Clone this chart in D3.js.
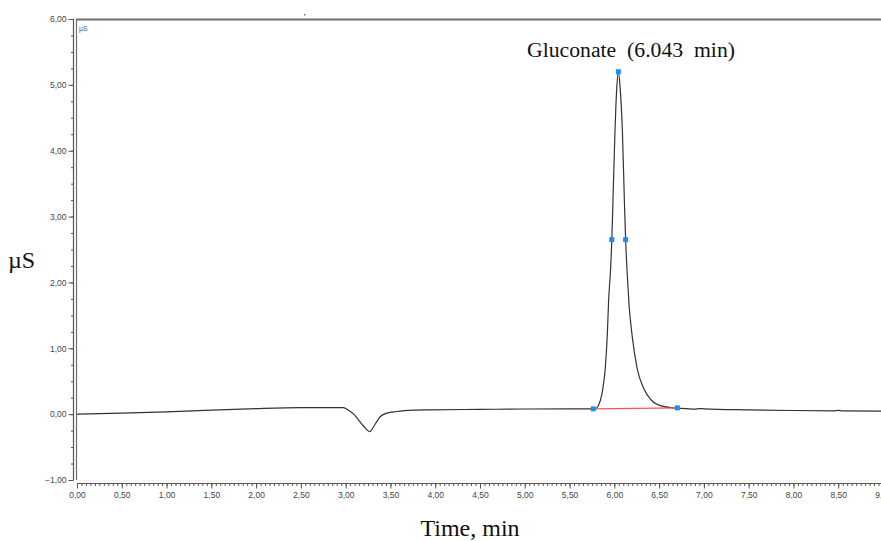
<!DOCTYPE html>
<html>
<head>
<meta charset="utf-8">
<script src="https://cdn.jsdelivr.net/npm/d3@7"></script>
<style>
  html, body { margin: 0; padding: 0; background: #fff; }
  svg { display: block; }
</style>
</head>
<body>
<svg id="chart" width="881" height="541"></svg>
<script>
// ---- Data ----
const times = [0, 0.5, 1.0, 1.5, 2.0, 2.5, 2.976, 3.03, 3.09, 3.15, 3.2, 3.266, 3.33, 3.385, 3.46, 3.57, 3.76, 3.94, 4.5, 5.0, 5.5, 5.765, 5.8, 5.821, 5.862, 5.899, 5.922, 5.936, 5.958, 5.972, 5.985, 6.005, 6.025, 6.045, 6.065, 6.09, 6.112, 6.126, 6.145, 6.165, 6.198, 6.254, 6.324, 6.421, 6.514, 6.659, 6.8, 6.9, 6.95, 7.0, 7.5, 8.0, 8.45, 8.5, 8.55, 9.0];
const signal = [0.0, 0.015, 0.035, 0.06, 0.085, 0.10, 0.10, 0.06, 0.0, -0.1, -0.18, -0.265, -0.15, -0.04, 0.015, 0.04, 0.06, 0.065, 0.072, 0.078, 0.08, 0.08, 0.09, 0.126, 0.31, 0.70, 1.22, 1.72, 2.2, 2.65, 3.25, 4.2, 4.9, 5.2, 4.95, 4.3, 3.25, 2.65, 2.1, 1.65, 1.2, 0.70, 0.40, 0.20, 0.13, 0.096, 0.085, 0.075, 0.085, 0.08, 0.065, 0.055, 0.05, 0.058, 0.05, 0.045];

const markerTimes = [5.765, 5.972, 6.045, 6.126, 6.704];
const markerValues = [0.08, 2.65, 5.2, 2.65, 0.095];
const baselineTimes = [5.765, 6.704];
const baselineValues = [0.08, 0.095];

const xMajorTicks = d3.range(0, 9.001, 0.5);
const xMinorTicks = d3.range(0, 9.001, 0.05);
const yMajorTicks = [-1, 0, 1, 2, 3, 4, 5, 6];
const yMinorTicks = d3.range(-1, 6.001, 0.25);

const peakLabel = "Gluconate  (6.043  min)";
const xTitle = "Time, min";
const yTitle = "\u00B5S";
const unitLabel = "\u00B5S";

// ---- Scales ----
const svg = d3.select("#chart");
const x = d3.scaleLinear().domain([0, 9]).range([77, 883]);
const y = d3.scaleLinear().domain([-1, 6]).range([480, 19]);
const fmt = v => d3.format(".2f")(v).replace(".", ",");

// ---- Frame ----
svg.append("line").attr("x1", 76).attr("x2", 881).attr("y1", 19.5).attr("y2", 19.5)
  .attr("stroke", "#6d6d6d").attr("stroke-width", 2);
svg.append("line").attr("x1", 76.5).attr("x2", 76.5).attr("y1", 19).attr("y2", 480)
  .attr("stroke", "#6d6d6d").attr("stroke-width", 1.2);
svg.append("line").attr("x1", 77).attr("x2", 881).attr("y1", 481).attr("y2", 481)
  .attr("stroke", "#efebdc").attr("stroke-width", 1);
svg.append("rect").attr("x", 304).attr("y", 14).attr("width", 1.5).attr("height", 1.5).attr("fill", "#777");

// ---- Y axis ----
const yAxisG = svg.append("g").attr("transform", "translate(73.5,0)");
yAxisG.call(d3.axisLeft(y).tickValues(yMinorTicks).tickSize(2.5).tickFormat(""));
yAxisG.call(g => g.select(".domain").remove());
const yMajor = svg.append("g").attr("transform", "translate(73.5,0)")
  .call(d3.axisLeft(y).tickValues(yMajorTicks).tickSize(5).tickPadding(2).tickFormat(fmt));
yMajor.select(".domain").attr("d", `M0,${y(6)}V${y(-1)}`).attr("stroke", "#555").attr("stroke-width", 1.2);
yMajor.selectAll("text").attr("font-family", "Arial, 'Liberation Sans', sans-serif")
  .attr("font-size", 8.5).attr("fill", "#444");

// ---- X axis ----
const xAxisG = svg.append("g").attr("transform", "translate(0,483.5)");
xAxisG.call(d3.axisBottom(x).tickValues(xMinorTicks).tickSize(2.5).tickFormat(""));
xAxisG.select(".domain").remove();
const xMajor = svg.append("g").attr("transform", "translate(0,483.5)")
  .call(d3.axisBottom(x).tickValues(xMajorTicks).tickSize(5).tickPadding(3).tickFormat(fmt));
xMajor.select(".domain").attr("d", `M${x(0)},0H881`).attr("stroke", "#555").attr("stroke-width", 1.2);
xMajor.selectAll("text").attr("font-family", "Arial, 'Liberation Sans', sans-serif")
  .attr("font-size", 8.5).attr("fill", "#444");
svg.selectAll(".tick line").attr("stroke", "#555");

// ---- Chromatogram trace ----
const pts = times.map((t, i) => [t, signal[i]]);
const line = d3.line().x(d => x(d[0])).y(d => y(d[1])).curve(d3.curveMonotoneX);
svg.append("path").datum(pts).attr("d", line)
  .attr("fill", "none").attr("stroke", "#333").attr("stroke-width", 1.2);

// ---- Integration baseline ----
const bl = baselineTimes.map((t, i) => [t, baselineValues[i]]);
svg.append("path").datum(bl).attr("d", d3.line().x(d => x(d[0])).y(d => y(d[1])))
  .attr("fill", "none").attr("stroke", "#f2555a").attr("stroke-width", 1.2);

// ---- Peak markers ----
svg.selectAll("rect.mk").data(markerTimes.map((t, i) => [t, markerValues[i]])).join("rect")
  .attr("class", "mk")
  .attr("x", d => x(d[0]) - 2.5).attr("y", d => y(d[1]) - 2.5)
  .attr("width", 5).attr("height", 5).attr("fill", "#1e8cf5");

// ---- Texts ----
svg.append("text").attr("x", 79).attr("y", 31).text(unitLabel)
  .attr("font-family", "Arial, 'Liberation Sans', sans-serif").attr("font-size", 7).attr("fill", "#555");
svg.append("text").attr("x", 527).attr("y", 57).text(peakLabel)
  .attr("xml:space", "preserve").style("white-space", "pre")
  .attr("textLength", 208).attr("lengthAdjust", "spacingAndGlyphs")
  .attr("font-family", "'Liberation Serif', 'Times New Roman', serif").attr("font-size", 20.5).attr("fill", "#111");
svg.append("text").attr("x", 470).attr("y", 536).attr("text-anchor", "middle").text(xTitle)
  .attr("font-family", "'Liberation Serif', 'Times New Roman', serif").attr("font-size", 24).attr("fill", "#111");
svg.append("text").attr("x", 8).attr("y", 268).text(yTitle)
  .attr("font-family", "'Liberation Serif', 'Times New Roman', serif").attr("font-size", 24).attr("fill", "#111");
</script>
</body>
</html>
